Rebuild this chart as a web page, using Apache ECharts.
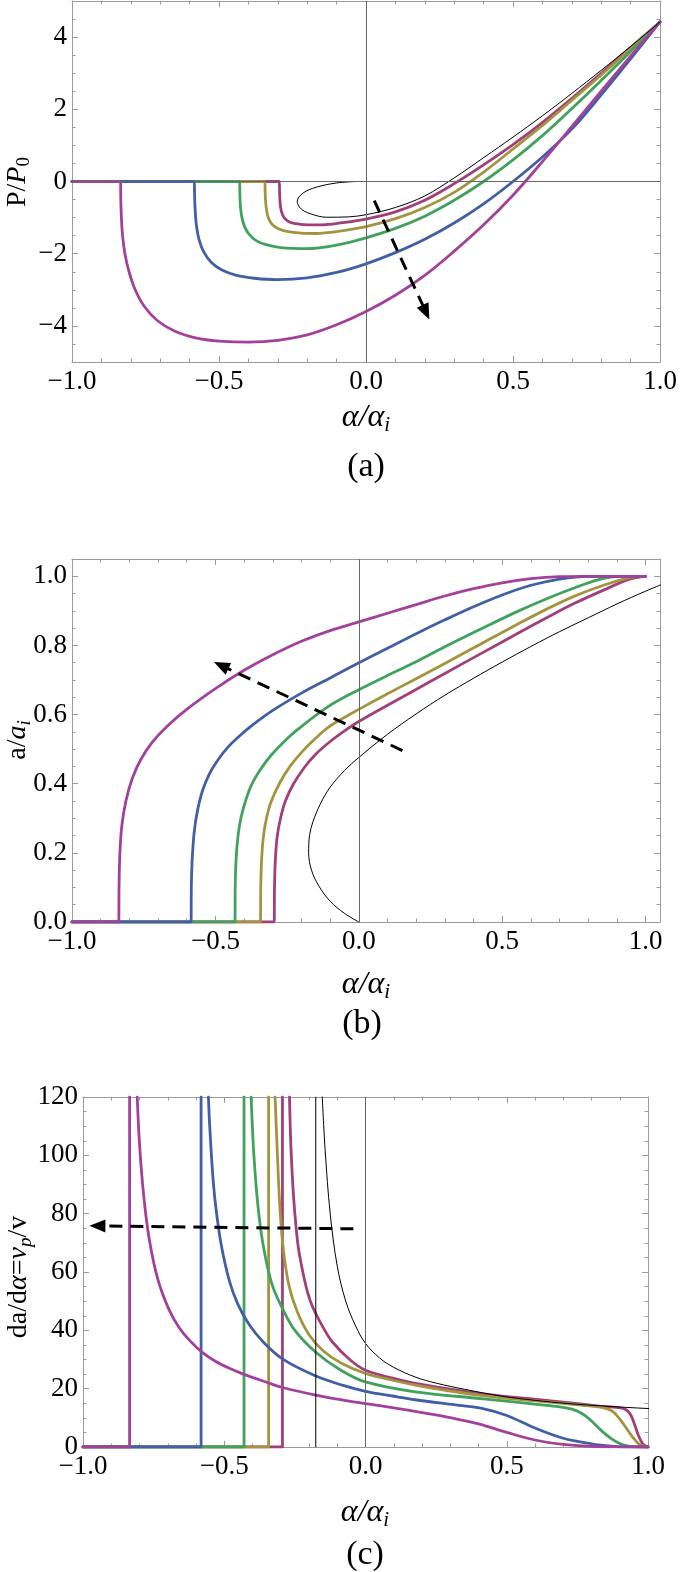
<!DOCTYPE html>
<html><head><meta charset="utf-8">
<script src="https://cdn.jsdelivr.net/npm/echarts@6/dist/echarts.min.js"></script>
<style>html,body{margin:0;padding:0;background:#fff}#c{width:685px;height:1572px}</style>
</head><body><div id="c"></div>
<script>
// ---------- Panel (a): P/P0 vs alpha/alpha_i ----------
const aMaroon = [[-1,0],[-0.295,0],[-0.294,-0.3],[-0.292,-0.6],[-0.288,-0.82],[-0.28,-0.98],[-0.267,-1.09],[-0.245,-1.16],[-0.2,-1.2],[-0.15,-1.2],[-0.08,-1.14],[0,-1.04],[0.1,-0.84],[0.2,-0.52],[0.3,-0.06],[0.4,0.46],[0.5,1.02],[0.6,1.63],[0.7,2.3],[0.8,3.0],[0.9,3.71],[1,4.42]];
const aOlive  = [[-1,0],[-0.344,0],[-0.343,-0.3],[-0.341,-0.6],[-0.337,-0.85],[-0.33,-1.05],[-0.318,-1.2],[-0.3,-1.3],[-0.27,-1.38],[-0.22,-1.43],[-0.17,-1.44],[-0.1,-1.39],[0,-1.25],[0.1,-1.03],[0.2,-0.72],[0.3,-0.3],[0.4,0.26],[0.5,0.9],[0.6,1.55],[0.7,2.25],[0.8,2.95],[0.9,3.68],[1,4.42]];
const aGreen  = [[-1,0],[-0.43,0],[-0.429,-0.35],[-0.427,-0.7],[-0.422,-1.0],[-0.413,-1.25],[-0.398,-1.46],[-0.375,-1.63],[-0.34,-1.75],[-0.29,-1.83],[-0.2,-1.86],[-0.1,-1.76],[0,-1.56],[0.1,-1.3],[0.2,-0.96],[0.3,-0.52],[0.4,0],[0.5,0.6],[0.6,1.27],[0.7,2.02],[0.8,2.8],[0.9,3.6],[1,4.42]];
const aBlue   = [[-1,0],[-0.584,0],[-0.583,-0.4],[-0.581,-0.8],[-0.577,-1.2],[-0.568,-1.6],[-0.552,-1.95],[-0.525,-2.25],[-0.49,-2.45],[-0.44,-2.6],[-0.38,-2.68],[-0.3,-2.72],[-0.2,-2.67],[-0.1,-2.52],[0,-2.28],[0.1,-1.97],[0.2,-1.6],[0.3,-1.15],[0.4,-0.62],[0.5,0],[0.6,0.68],[0.7,1.45],[0.8,2.4],[0.9,3.4],[1,4.42]];
const aPurple = [[-1,0],[-0.835,0],[-0.834,-0.5],[-0.832,-1.0],[-0.828,-1.5],[-0.82,-2.0],[-0.806,-2.5],[-0.785,-3.0],[-0.755,-3.45],[-0.71,-3.85],[-0.65,-4.15],[-0.58,-4.33],[-0.5,-4.42],[-0.4,-4.45],[-0.3,-4.4],[-0.2,-4.25],[-0.1,-3.97],[0,-3.6],[0.1,-3.15],[0.2,-2.6],[0.3,-1.93],[0.4,-1.2],[0.5,-0.38],[0.6,0.55],[0.7,1.52],[0.8,2.5],[0.9,3.47],[1,4.42]];
const aBlack  = [[-0.032,0],[-0.1,-0.04],[-0.17,-0.16],[-0.214,-0.32],[-0.234,-0.55],[-0.222,-0.75],[-0.19,-0.89],[-0.134,-0.99],[-0.06,-0.98],[0,-0.92],[0.1,-0.72],[0.2,-0.4],[0.3,0.1],[0.4,0.66],[0.5,1.23],[0.6,1.82],[0.7,2.44],[0.8,3.08],[0.9,3.74],[1,4.42]];
const aArrow  = [[0.028,-0.53],[0.204,-3.62]];
const aXTicks = [-1,-0.5,0,0.5,1];
const aYTicks = [-4,-2,0,2,4];

// ---------- Panel (b): a/a_i vs alpha/alpha_i ----------
const bMaroon = [[-1,0],[-0.295,0],[-0.294,0.1],[-0.291,0.18],[-0.285,0.245],[-0.273,0.3],[-0.256,0.35],[-0.228,0.399],[-0.19,0.447],[-0.152,0.484],[-0.1,0.522],[-0.05,0.553],[0,0.58],[0.1,0.627],[0.198,0.672],[0.3,0.719],[0.427,0.777],[0.55,0.833],[0.655,0.88],[0.75,0.921],[0.853,0.96],[0.944,0.992],[1,1]];
const bOlive  = [[-1,0],[-0.343,0],[-0.342,0.1],[-0.339,0.18],[-0.333,0.245],[-0.322,0.3],[-0.305,0.35],[-0.274,0.405],[-0.24,0.45],[-0.198,0.492],[-0.15,0.532],[-0.107,0.563],[-0.05,0.592],[0,0.615],[0.1,0.66],[0.198,0.703],[0.3,0.748],[0.427,0.805],[0.55,0.86],[0.655,0.905],[0.75,0.942],[0.853,0.974],[0.944,0.996],[1,1]];
const bGreen  = [[-1,0],[-0.432,0],[-0.431,0.1],[-0.428,0.18],[-0.421,0.25],[-0.41,0.305],[-0.393,0.355],[-0.373,0.399],[-0.34,0.445],[-0.305,0.483],[-0.26,0.522],[-0.213,0.557],[-0.107,0.623],[0,0.672],[0.1,0.713],[0.198,0.752],[0.3,0.796],[0.427,0.848],[0.55,0.897],[0.655,0.935],[0.75,0.966],[0.83,0.989],[0.9,0.999],[1,1]];
const bBlue   = [[-1,0],[-0.585,0],[-0.584,0.1],[-0.581,0.18],[-0.574,0.26],[-0.563,0.32],[-0.545,0.38],[-0.52,0.43],[-0.49,0.47],[-0.457,0.505],[-0.42,0.535],[-0.37,0.57],[-0.3,0.612],[-0.2,0.662],[-0.1,0.706],[0,0.75],[0.1,0.792],[0.2,0.834],[0.3,0.874],[0.4,0.912],[0.5,0.946],[0.6,0.974],[0.7,0.992],[0.8,1],[1,1]];
const bPurple = [[-1,0],[-0.837,0],[-0.836,0.1],[-0.833,0.2],[-0.826,0.28],[-0.812,0.35],[-0.79,0.415],[-0.76,0.47],[-0.72,0.52],[-0.67,0.565],[-0.6,0.615],[-0.5,0.675],[-0.4,0.728],[-0.3,0.773],[-0.2,0.812],[-0.1,0.843],[0,0.868],[0.1,0.893],[0.2,0.918],[0.3,0.943],[0.4,0.964],[0.5,0.981],[0.6,0.993],[0.7,0.999],[0.8,1],[1,1]];
const bBlack  = [[0,0],[-0.05,0.025],[-0.1,0.06],[-0.14,0.105],[-0.165,0.15],[-0.175,0.2],[-0.172,0.25],[-0.16,0.29],[-0.135,0.34],[-0.1,0.39],[-0.05,0.438],[0,0.476],[0.1,0.543],[0.2,0.602],[0.3,0.656],[0.4,0.705],[0.5,0.752],[0.6,0.797],[0.7,0.84],[0.8,0.88],[0.9,0.92],[1.0,0.957],[1.126,1.0]];
const bArrow  = [[0.152,0.496],[-0.48,0.742]];
const bXTicks = [-1,-0.5,0,0.5,1];
const bYTicks = [0,0.2,0.4,0.6,0.8,1.0];

// ---------- Panel (c): da/dalpha vs alpha/alpha_i ----------
const cMaroonJump = [[-1,0],[-0.294,0],[-0.294,120]];
const cMaroon = [[-0.269,120],[-0.264,103],[-0.254,85],[-0.24,70],[-0.226,62],[-0.205,53],[-0.187,48],[-0.15,41],[-0.117,36],[-0.056,30],[0,26.3],[0.1,23.5],[0.176,21.8],[0.3,19.8],[0.408,18.3],[0.52,17.1],[0.64,16.0],[0.76,14.8],[0.841,13.9],[0.903,13.4],[0.925,12.6],[0.94,10.8],[0.955,7],[0.968,3.5],[0.982,1.0],[0.995,0.1],[1,0]];
const cOliveJump = [[-1,0],[-0.343,0],[-0.343,120]];
const cOlive  = [[-0.32,120],[-0.313,103],[-0.303,82],[-0.29,67],[-0.27,55],[-0.24,46],[-0.2,38.5],[-0.15,33],[-0.087,28.8],[0,25.2],[0.1,22.8],[0.176,21.2],[0.3,19.2],[0.408,17.7],[0.52,16.5],[0.64,15.5],[0.76,14.4],[0.841,13.5],[0.875,12.2],[0.903,9.2],[0.93,5.5],[0.949,3.0],[0.968,1.0],[0.985,0.2],[1,0]];
const cGreenJump = [[-1,0],[-0.43,0],[-0.43,120]];
const cGreen  = [[-0.405,120],[-0.395,100],[-0.38,82],[-0.36,68],[-0.33,55.5],[-0.294,47.5],[-0.25,40],[-0.176,32.5],[-0.09,26.5],[0,22.3],[0.176,18.9],[0.408,16.6],[0.64,14.3],[0.71,13.4],[0.748,12.4],[0.78,10.6],[0.81,8.0],[0.84,5.2],[0.87,2.9],[0.9,1.2],[0.932,0.3],[0.97,0],[1,0]];
const cBlueJump = [[-1,0],[-0.582,0],[-0.582,120]];
const cBlue   = [[-0.556,120],[-0.552,111],[-0.542,95],[-0.532,84],[-0.512,70],[-0.482,57],[-0.452,49],[-0.412,42],[-0.362,36],[-0.294,30.2],[-0.182,24.6],[-0.082,21.2],[0,19.1],[0.1,17.4],[0.176,16.2],[0.331,14.3],[0.408,13.3],[0.5,10.8],[0.6,6.5],[0.7,3.0],[0.8,1.1],[0.87,0.3],[0.93,0],[1,0]];
const cPurpleJump = [[-1,0],[-0.835,0],[-0.835,120]];
const cPurple = [[-0.808,120],[-0.8,104],[-0.785,86],[-0.765,71],[-0.735,57.5],[-0.695,47],[-0.66,41],[-0.62,36.3],[-0.58,32.6],[-0.53,29.3],[-0.48,26.9],[-0.43,24.9],[-0.35,22.2],[-0.294,20.4],[-0.176,17.8],[-0.08,16.1],[0,14.9],[0.1,13.4],[0.2,11.8],[0.3,10.1],[0.4,7.9],[0.5,5.0],[0.6,2.4],[0.7,0.9],[0.8,0.25],[0.9,0.03],[1,0]];
const cBlackJump = [[-0.176,0],[-0.176,120]];
const cBlack  = [[-0.153,120],[-0.143,102],[-0.125,80],[-0.1,62],[-0.07,50],[-0.035,41.5],[0,35.5],[0.05,30.5],[0.1,27.3],[0.176,24],[0.25,21.9],[0.35,19.8],[0.484,17.4],[0.6,16.0],[0.716,14.9],[0.85,14.0],[1.0,13.2],[1.125,12.8]];
const cArrow  = [[-0.043,74.8],[-0.949,75.8]];
const cXTicks = [-1,-0.5,0,0.5,1];
const cYTicks = [0,20,40,60,80,100,120];

// ---------- styling ----------
const FONT = 'Liberation Serif';
const COL = {maroon:'#a23f78', olive:'#a39440', green:'#40a25c', blue:'#405fa4', purple:'#a2409c', black:'#000'};
const FRAME = '#9a9a9a';
const LW = 2.8;

function range(a, b, s) { const o = []; for (let k = 0; a + k * s <= b + 1e-9; k++) o.push(+(a + k * s).toFixed(4)); return o; }
const minus = s => s.replace('-', '\u2212');
const f1 = v => minus((+v).toFixed(1));
const f0 = v => minus((+v).toFixed(0));

function axes(dim, g, min, max, majors, minors, fmt) {
  const pos = dim === 'x' ? ['bottom', 'top'] : ['left', 'right'];
  const base = {gridIndex: g, type: 'value', min, max, splitLine: {show: false}, splitArea: {show: false}, axisPointer: {show: false}};
  const line = show => ({show, onZero: false, lineStyle: {color: FRAME, width: 1}});
  const tick = (vals, len) => ({show: true, inside: true, length: len, customValues: vals, lineStyle: {color: FRAME, width: 1}});
  return [
    Object.assign({}, base, {position: pos[0], axisLine: line(true), axisTick: tick(majors, 6),
      axisLabel: {show: true, customValues: majors, formatter: fmt, fontFamily: FONT, fontSize: 27, color: '#000', margin: dim === 'x' ? 6 : 5}}),
    Object.assign({}, base, {position: pos[0], axisLine: line(false), axisTick: tick(minors, 3.5), axisLabel: {show: false}}),
    Object.assign({}, base, {position: pos[1], axisLine: line(true), axisTick: tick(majors, 6), axisLabel: {show: false}}),
    Object.assign({}, base, {position: pos[1], axisLine: line(false), axisTick: tick(minors, 3.5), axisLabel: {show: false}})
  ];
}

const xAxis = [].concat(
  axes('x', 0, -1, 1, aXTicks, range(-1, 1, 0.1), f1),
  axes('x', 1, -1, 1.05, bXTicks, range(-1, 1, 0.1), f1),
  axes('x', 2, -1, 1, cXTicks, range(-1, 1, 0.1), f1));
const yAxis = [].concat(
  axes('y', 0, -5, 5, aYTicks, range(-5, 5, 0.5), f0),
  axes('y', 1, 0, 1.05, bYTicks, range(0, 1.05, 0.05), f1),
  axes('y', 2, 0, 120, cYTicks, range(0, 120, 5), f0));

function ln(g, data, color, width, extra) {
  return Object.assign({type: 'line', xAxisIndex: 4 * g, yAxisIndex: 4 * g, data, symbol: 'none', showSymbol: false,
    smooth: 0.35, lineStyle: {color, width, cap: 'round', join: 'round'}, itemStyle: {color}, silent: true, z: 3,
    animation: false, emphasis: {disabled: true}, clip: true}, extra || {});
}
function refLines(g, items) {
  return {type: 'line', xAxisIndex: 4 * g, yAxisIndex: 4 * g, data: [[0, 0]], symbol: 'none', lineStyle: {opacity: 0}, silent: true, z: 1, animation: false,
    markLine: {silent: true, symbol: 'none', animation: false, label: {show: false}, emphasis: {disabled: true},
      lineStyle: {color: '#666', width: 1, type: 'solid'}, data: items}};
}
function arrow(g, pts) {
  return {type: 'line', xAxisIndex: 4 * g, yAxisIndex: 4 * g, data: [pts[0]], symbol: 'none', lineStyle: {opacity: 0}, silent: true, z: 6, animation: false,
    markLine: {silent: true, animation: false, label: {show: false}, emphasis: {disabled: true},
      symbol: ['none', 'triangle'], symbolSize: [13, 16],
      lineStyle: {color: '#000', width: 3, type: [13, 8], opacity: 1},
      data: [[{coord: pts[0]}, {coord: pts[1]}]]}};
}

const series = [
  refLines(0, [{xAxis: 0}, {yAxis: 0}]),
  ln(0, aMaroon, COL.maroon, LW), ln(0, aOlive, COL.olive, LW), ln(0, aGreen, COL.green, LW),
  ln(0, aBlue, COL.blue, LW), ln(0, aPurple, COL.purple, LW), ln(0, aBlack, COL.black, 1),
  arrow(0, aArrow),

  refLines(1, [{xAxis: 0}]),
  ln(1, bMaroon, COL.maroon, LW), ln(1, bOlive, COL.olive, LW), ln(1, bGreen, COL.green, LW),
  ln(1, bBlue, COL.blue, LW), ln(1, bPurple, COL.purple, LW), ln(1, bBlack, COL.black, 1, {clip: false}),
  arrow(1, bArrow),

  refLines(2, [{xAxis: 0}]),
  ln(2, cMaroonJump, COL.maroon, LW, {smooth: false}), ln(2, cMaroon, COL.maroon, LW),
  ln(2, cOliveJump, COL.olive, LW, {smooth: false}), ln(2, cOlive, COL.olive, LW),
  ln(2, cGreenJump, COL.green, LW, {smooth: false}), ln(2, cGreen, COL.green, LW),
  ln(2, cBlueJump, COL.blue, LW, {smooth: false}), ln(2, cBlue, COL.blue, LW),
  ln(2, cPurpleJump, COL.purple, LW, {smooth: false}), ln(2, cPurple, COL.purple, LW),
  ln(2, cBlackJump, COL.black, 1, {smooth: false}), ln(2, cBlack, COL.black, 1, {clip: false}),
  arrow(2, cArrow)
];

const rich = {
  r: {fontFamily: FONT, fontSize: 28, lineHeight: 32, fill: '#000', color: '#000'},
  i: {fontFamily: FONT, fontSize: 28, fontStyle: 'italic', lineHeight: 32, fill: '#000', color: '#000'},
  s: {fontFamily: FONT, fontSize: 19, lineHeight: 17, verticalAlign: 'bottom', fill: '#000', color: '#000'},
  si: {fontFamily: FONT, fontSize: 19, fontStyle: 'italic', lineHeight: 17, verticalAlign: 'bottom', fill: '#000', color: '#000'},
  X: {fontFamily: FONT, fontSize: 32, fontStyle: 'italic', lineHeight: 36, fill: '#000', color: '#000'},
  Xs: {fontFamily: FONT, fontSize: 21, fontStyle: 'italic', lineHeight: 19, verticalAlign: 'bottom', fill: '#000', color: '#000'},
  cap: {fontFamily: FONT, fontSize: 34, lineHeight: 38, fill: '#000', color: '#000'}
};
function txt(x, y, text, rot) {
  return {type: 'text', x, y, rotation: rot || 0, silent: true, z: 10,
    style: {text, rich, fill: '#000', font: '28px "Liberation Serif"', align: 'center', verticalAlign: 'middle', textAlign: 'center', textVerticalAlign: 'middle'}};
}
const R90 = Math.PI / 2;
const graphic = [
  txt(18, 182, '{r|P/}{i|P}{s|0}', R90),
  txt(366, 418, '{X|\u03b1/\u03b1}{Xs|i}'),
  txt(366, 467, '{cap|(a)}'),
  txt(18, 740, '{r|a/}{i|a}{si|i}', R90),
  txt(366, 985, '{X|\u03b1/\u03b1}{Xs|i}'),
  txt(362, 1024, '{cap|(b)}'),
  txt(19, 1277, '{r|da/d}{i|\u03b1}{r|=}{i|v}{si|p}{r|/v}', R90),
  txt(365, 1513, '{X|\u03b1/\u03b1}{Xs|i}'),
  txt(365, 1555, '{cap|(c)}')
];

const chart = echarts.init(document.getElementById('c'), null, {renderer: 'canvas', width: 685, height: 1572});
chart.setOption({
  animation: false,
  backgroundColor: '#fff',
  grid: [
    {left: 72, top: 1, width: 588, height: 361, containLabel: false, outerBoundsMode: 'none'},
    {left: 72, top: 559, width: 588, height: 363, containLabel: false, outerBoundsMode: 'none'},
    {left: 83, top: 1097, width: 565, height: 350, containLabel: false, outerBoundsMode: 'none'}
  ],
  xAxis, yAxis, series, graphic
});
</script></body></html>
